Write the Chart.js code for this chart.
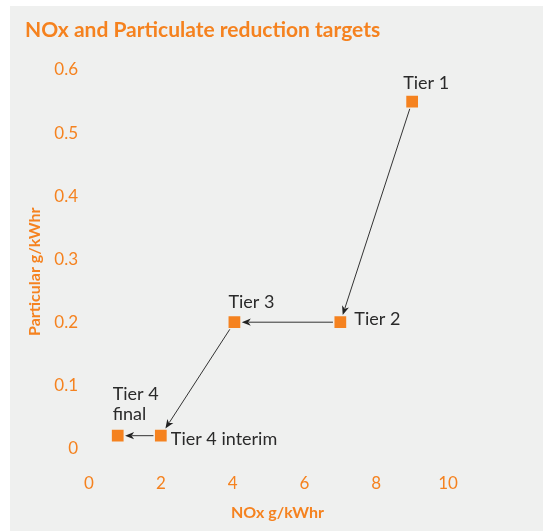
<!DOCTYPE html>
<html>
<head>
<meta charset="utf-8">
<script src="https://cdn.jsdelivr.net/npm/chart.js@4.4.1/dist/chart.umd.min.js"></script>
<style>
  html, body { margin: 0; padding: 0; background: #ffffff; }
  #panel { position: absolute; left: 10px; top: 6px; width: 533px; height: 525px; background: #eff0ef; }
  #wrap { position: absolute; left: 0; top: 0; width: 543px; height: 531px; }
</style>
</head>
<body>
<div id="panel"></div>
<div id="wrap"><canvas id="chart" width="543" height="531"></canvas></div>
<script>
// Emission tiers: NOx vs particulate limits (g/kWhr)
const tierLabels = [['Tier 1'], ['Tier 2'], ['Tier 3'], ['Tier 4 interim'], ['Tier 4', 'final']];
const noxValues = [9.0, 7.0, 4.05, 2.0, 0.8];
const particulateValues = [0.55, 0.2, 0.2, 0.02, 0.02];
const xTickValues = [0, 2, 4, 6, 8, 10];
const yTickValues = [0, 0.1, 0.2, 0.3, 0.4, 0.5, 0.6];

const ORANGE = '#f5821f';
const TEXT = '#2a2a2a';
const LABEL_FONT = '18px Lato, "Noto Sans", sans-serif';

// Where each tier's caption sits relative to its marker: [dx to text start, dy to first baseline]
const captionOffsets = [[-9, -13], [14, 3], [-6, -14], [10, 9], [-5, -36]];
const captionLineGap = 20;

const points = noxValues.map((x, i) => ({ x: x, y: particulateValues[i] }));

// Arrows from each tier to the next one, stopping at the square markers
const tierArrows = {
  id: 'tierArrows',
  beforeDatasetsDraw(chart) {
    const ctx = chart.ctx;
    const meta = chart.getDatasetMeta(0);
    const half = chart.data.datasets[0].pointRadius * Math.SQRT1_2;
    const gap = 1.5;
    ctx.save();
    ctx.strokeStyle = '#333333';
    ctx.fillStyle = '#222222';
    ctx.lineWidth = 1;
    for (let i = 0; i < meta.data.length - 1; i++) {
      const a = meta.data[i], b = meta.data[i + 1];
      const dx = b.x - a.x, dy = b.y - a.y;
      const len = Math.hypot(dx, dy);
      const ux = dx / len, uy = dy / len;
      const edge = half / Math.max(Math.abs(ux), Math.abs(uy)) + gap;
      const sx = a.x + ux * edge, sy = a.y + uy * edge;
      const ex = b.x - ux * edge, ey = b.y - uy * edge;
      const head = 9, wing = 3.6;
      const bx = ex - ux * head, by = ey - uy * head;
      ctx.beginPath();
      ctx.moveTo(sx, sy);
      ctx.lineTo(bx + ux * 2, by + uy * 2);
      ctx.stroke();
      ctx.beginPath();
      ctx.moveTo(ex, ey);
      ctx.lineTo(bx - uy * wing, by + ux * wing);
      ctx.lineTo(bx + ux * 2.5, by + uy * 2.5);
      ctx.lineTo(bx + uy * wing, by - ux * wing);
      ctx.closePath();
      ctx.fill();
    }
    ctx.restore();
  },
  afterDatasetsDraw(chart) {
    const ctx = chart.ctx;
    const meta = chart.getDatasetMeta(0);
    ctx.save();
    ctx.font = LABEL_FONT;
    ctx.fillStyle = TEXT;
    ctx.textAlign = 'left';
    ctx.textBaseline = 'alphabetic';
    meta.data.forEach((pt, i) => {
      const [ox, oy] = captionOffsets[i];
      tierLabels[i].forEach((line, j) => {
        ctx.fillText(line, pt.x + ox, pt.y + oy + j * captionLineGap);
      });
    });
    ctx.restore();
  }
};

new Chart(document.getElementById('chart'), {
  type: 'scatter',
  data: {
    datasets: [{
      data: points,
      pointStyle: 'rect',
      pointRadius: 8.3,
      pointHoverRadius: 8.3,
      borderWidth: 0,
      backgroundColor: ORANGE,
      showLine: false
    }]
  },
  options: {
    responsive: false,
    animation: false,
    devicePixelRatio: 1,
    events: [],
    layout: { padding: { left: 25, right: 77, top: 0, bottom: 0 } },
    plugins: {
      legend: { display: false },
      tooltip: { enabled: false },
      title: {
        display: true,
        text: 'NOx and Particulate reduction targets',
        align: 'start',
        color: ORANGE,
        font: { family: 'Lato, "Noto Sans", sans-serif', size: 21, weight: 'bold', lineHeight: 1.2 },
        padding: { top: 18, bottom: 26.8 }
      }
    },
    scales: {
      x: {
        type: 'linear',
        min: 0,
        max: 10.5,
        grid: { display: false, drawTicks: false },
        border: { display: false },
        afterBuildTicks: (scale) => { scale.ticks = xTickValues.map(v => ({ value: v })); },
        afterFit: (scale) => { scale.height = 57.5; },
        ticks: {
          color: ORANGE,
          padding: 0,
          font: { family: 'Lato, "Noto Sans", sans-serif', size: 17, lineHeight: 1.2 },
          callback: (v) => String(v)
        },
        title: {
          display: true,
          text: 'NOx g/kWhr',
          color: ORANGE,
          font: { family: 'Lato, "Noto Sans", sans-serif', size: 16, weight: 'bold', lineHeight: 1.2 },
          padding: { top: 0, bottom: 8.4 }
        }
      },
      y: {
        type: 'linear',
        min: -0.04,
        max: 0.6,
        grid: { display: false, drawTicks: false },
        border: { display: false },
        afterBuildTicks: (scale) => { scale.ticks = yTickValues.map(v => ({ value: v })); },
        afterFit: (scale) => { scale.width = 64; },
        ticks: {
          color: ORANGE,
          padding: 11,
          font: { family: 'Lato, "Noto Sans", sans-serif', size: 17, lineHeight: 1.2 },
          callback: (v) => String(v)
        },
        title: {
          display: true,
          text: 'Particular g/kWhr',
          color: ORANGE,
          font: { family: 'Lato, "Noto Sans", sans-serif', size: 16, weight: 'bold', lineHeight: 1.2 },
          padding: { top: 0, bottom: 0 }
        }
      }
    }
  },
  plugins: [tierArrows]
});
</script>
</body>
</html>
